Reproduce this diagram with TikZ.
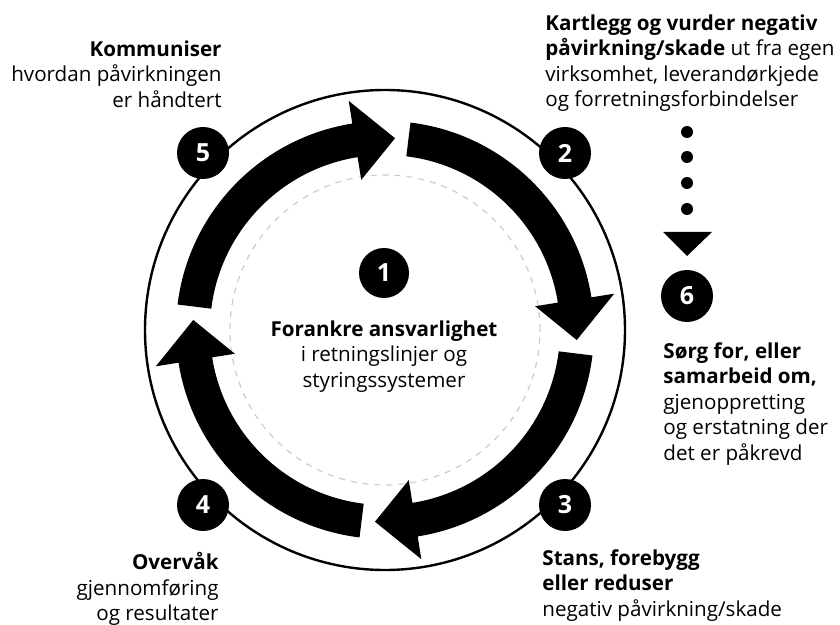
\documentclass[tikz,border=0pt]{standalone}
\usepackage{fontspec}
\setmainfont{Open Sans}
\usetikzlibrary{positioning, calc}

\begin{document}
\begin{tikzpicture}[x=0.5pt, y=0.5pt,
  badge/.style={circle, fill=black, text=white, inner sep=0pt, minimum size=26pt, font=\fontsize{12.5}{14}\selectfont\bfseries},
  steptext/.style={inner sep=0pt, font=\fontsize{10.3}{12.75}\selectfont},
  dotnode/.style={circle, fill=black, inner sep=0pt, minimum size=6pt},
  ringarrow/.style={fill=black}]

\useasboundingbox (0,0) rectangle (840,-625);
\coordinate (centre) at (385,-330);

% Sirkler
\draw[gray!40, line width=0.6pt, dash pattern=on 3pt off 3pt] (centre) circle[radius=155];
\draw[line width=1.2pt] (centre) circle[radius=240];

% Piler rundt sirkelen
\foreach \rot in {0,-90,-180,-270}{
  \fill[ringarrow, shift={(centre)}, rotate=\rot] (173:209) arc[start angle=173, end angle=99, radius=209]
    -- (99:232) -- (87:192) -- (99:152) -- (99:175)
    arc[start angle=99, end angle=173, radius=175] -- cycle;
}

% Nummer
\node[badge, minimum size=25pt] (b1) at (384,-273) {1};
\node[badge] (b2) at (565,-153) {2};
\node[badge] (b3) at (565,-505) {3};
\node[badge] (b4) at (203,-505) {4};
\node[badge] (b5) at (203,-153) {5};
\node[badge] (b6) at (687,-296) {6};

% Prikker ned mot 6
\node[dotnode] (d1) at (687,-132) {};
\node[dotnode] (d2) at (687,-157) {};
\node[dotnode] (d3) at (687,-183) {};
\node[dotnode] (d4) at (687,-209) {};
\coordinate (tl) at (663,-232);
\coordinate (tr) at (712,-232);
\coordinate (tip) at (687,-256);
\fill (tl) -- (tr) -- (tip) -- cycle;

% Tekster
\node[steptext, anchor=north, align=center] (t1) at (384,-320) {\textbf{Forankre ansvarlighet}\\i retningslinjer og\\styringssystemer};
\node[steptext, anchor=north west, align=left] (t2) at (545,-14) {\textbf{Kartlegg og vurder negativ}\\\textbf{påvirkning/skade} ut fra egen\\virksomhet, leverandørkjede\\og forretningsforbindelser};
\node[steptext, anchor=north west, align=left] (t3) at (542,-549) {\textbf{Stans, forebygg}\\\textbf{eller reduser}\\negativ påvirkning/skade};
\node[steptext, anchor=north east, align=right] (t4) at (219,-552) {\textbf{Overvåk}\\gjennomføring\\og resultater};
\node[steptext, anchor=north east, align=right] (t5) at (222,-40) {\textbf{Kommuniser}\\hvordan påvirkningen\\er håndtert};
\node[steptext, anchor=north west, align=left] (t6) at (663,-342) {\textbf{Sørg for, eller}\\\textbf{samarbeid om,}\\gjenoppretting\\og erstatning der\\det er påkrevd};

\end{tikzpicture}
\end{document}
